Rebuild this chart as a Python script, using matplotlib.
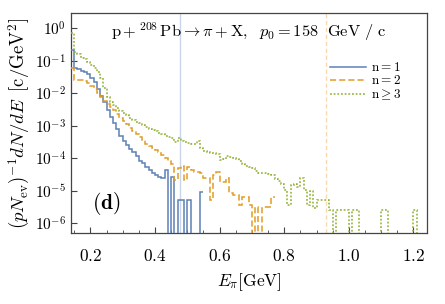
import numpy as np
import matplotlib
matplotlib.use("Agg")
import matplotlib.pyplot as plt
from matplotlib.ticker import FixedLocator, FuncFormatter, MultipleLocator, NullLocator

plt.rcParams['mathtext.fontset'] = 'cm'
plt.rcParams['font.family'] = 'serif'
plt.rcParams['font.serif'] = ['DejaVu Serif']

# bin layout (GeV)
e_start = 0.14
bin_width = 0.01

# n = 1
n1 = [2.1e-1, 6.1e-2, 5.6e-2, 5.0e-2, 4.5e-2, 3.9e-2, 3.0e-2, 2.2e-2, 1.36e-2, 8.3e-3,
      5.4e-3, 3.0e-3, 1.9e-3, 1.2e-3, 8.0e-4, 4.8e-4, 3.4e-4, 2.6e-4, 1.9e-4, 1.6e-4,
      1.2e-4, 8.0e-5, 7.2e-5, 5.4e-5, 4.4e-5, 3.5e-5, 3.1e-5, 2.7e-5, 2.5e-5, 4.4e-5,
      0, 2.7e-5, 0, 5.2e-6, 5.2e-6, 0, 5.2e-6, 0, 0, 0,
      9.4e-6]

# n = 2
n2 = [6.0e-2, 2.6e-2, 2.5e-2, 2.6e-2, 2.4e-2, 2.1e-2, 1.7e-2, 1.36e-2, 1.02e-2, 7.7e-3,
      5.8e-3, 4.7e-3, 3.8e-3, 3.1e-3, 2.3e-3, 1.7e-3, 1.4e-3, 1.14e-3, 8.5e-4, 6.9e-4,
      5.6e-4, 4.5e-4, 3.7e-4, 2.8e-4, 2.4e-4, 2.1e-4, 1.8e-4, 1.56e-4, 1.26e-4, 1.0e-4,
      8.3e-5, 6.6e-5, 2.1e-5, 4.9e-5, 5.8e-5, 2.1e-5, 5.4e-5, 4.4e-5, 3.8e-5, 3.8e-5,
      3.6e-5, 2.5e-5, 2.5e-5, 5.2e-6, 3.1e-5, 3.8e-5, 1.9e-5, 1.9e-5, 2.5e-5, 8.5e-6,
      7.4e-6, 7.4e-6, 3.6e-6, 6.4e-6, 6.4e-6, 3.6e-6, 0, 3.2e-6, 0, 3.2e-6,
      3.2e-6, 3.2e-6, 6.4e-6]

# n >= 3
n3 = [7.2e-1, 1.9e-1, 1.6e-1, 1.2e-1, 1.1e-1, 9.2e-2, 7.7e-2, 6.0e-2, 4.5e-2, 3.0e-2,
      1.46e-2, 7.7e-3, 5.4e-3, 4.4e-3, 3.5e-3, 2.9e-3, 2.4e-3, 2.1e-3, 1.7e-3, 1.56e-3,
      1.34e-3, 1.23e-3, 1.05e-3, 9.2e-4, 8.0e-4, 7.4e-4, 6.9e-4, 6.2e-4, 5.6e-4, 5.0e-4,
      4.5e-4, 4.2e-4, 3.2e-4, 4.2e-4, 3.4e-4, 3.2e-4, 2.9e-4, 2.7e-4, 2.8e-4, 3.4e-4,
      2.1e-4, 1.67e-4, 1.56e-4, 1.5e-4, 1.45e-4, 1.35e-4, 8.9e-5, 9.6e-5, 1.2e-4, 1.1e-4,
      1.0e-4, 9.6e-5, 8.3e-5, 6.6e-5, 5.8e-5, 5.2e-5, 5.0e-5, 4.1e-5, 3.5e-5, 3.5e-5,
      3.5e-5, 3.3e-5, 3.1e-5, 2.3e-5, 2.0e-5, 1.6e-5, 1.05e-5, 3.6e-6, 1.5e-5, 1.6e-5,
      1.3e-5, 2.4e-5, 1.05e-5, 3.6e-6, 9.8e-6, 2.9e-6, 5.2e-6, 5.2e-6, 5.2e-6, 5.2e-6,
      2.6e-6, 0, 2.6e-6, 2.6e-6, 2.6e-6, 2.6e-6, 0, 2.6e-6, 2.6e-6, 0,
      0, 0, 0, 0, 0, 0, 2.6e-6, 2.6e-6, 0, 0,
      0, 0, 0, 0, 0, 0, 2.6e-6, 0, 0, 0]

labels = [r'$\mathrm{n}=1$', r'$\mathrm{n}=2$', r'$\mathrm{n}\geq3$']
colors = ['#5E81B5', '#E19C24', '#8FB032']
styles = ['-', (0, (4, 2)), (0, (1.2, 1.2))]

vline_blue = 0.4765
vline_orange = 0.93

x_ticks = [0.2, 0.4, 0.6, 0.8, 1.0, 1.2]
y_ticks = [1e0, 1e-1, 1e-2, 1e-3, 1e-4, 1e-5, 1e-6]

fig = plt.figure(figsize=(4.45, 3.04), dpi=100)
ax = fig.add_axes([0.1596, 0.2336, 0.9596 - 0.1596, 0.957 - 0.2336])
ax.set_yscale('log')

ax.axvline(vline_blue, color='#C9D5EA', lw=1.0, zorder=1)
ax.axvline(vline_orange, color='#F8D9AE', lw=1.0, ls=(0, (3, 2)), zorder=1)

for vals, lab, c, s in zip([n1, n2, n3], labels, colors, styles):
    vals = np.asarray(vals, dtype=float)
    edges = e_start + bin_width * np.arange(len(vals) + 1)
    ax.stairs(vals, edges, color=c, lw=1.1, ls=s, label=lab, baseline=None, zorder=3)

ax.set_xlim(0.14, 1.242)
ax.set_ylim(10**-6.3, 10**0.47)

ax.xaxis.set_major_locator(FixedLocator(x_ticks))
ax.xaxis.set_minor_locator(MultipleLocator(0.05))
ax.xaxis.set_major_formatter(FuncFormatter(lambda v, p: r'$%.1f$' % v))
ax.yaxis.set_major_locator(FixedLocator(y_ticks))
ax.yaxis.set_minor_locator(NullLocator())
ax.yaxis.set_major_formatter(FuncFormatter(lambda v, p: r'$10^{%d}$' % int(round(np.log10(v)))))

ax.tick_params(axis='both', which='major', direction='in', length=4, width=0.8,
               labelsize=11, color='#444444')
ax.tick_params(axis='x', which='major', labelsize=12.5, pad=11)
ax.tick_params(axis='x', which='minor', direction='in', length=2.5, width=0.6, color='#444444')
for sp in ax.spines.values():
    sp.set_color('#444444')
    sp.set_linewidth(0.9)

ax.set_xlabel(r'$E_{\pi}[\mathrm{GeV}]$', fontsize=12.5, labelpad=4)
ax.set_ylabel(r'$(pN_{\mathrm{ev}})^{-1}dN/dE\ \,[\mathrm{c/GeV}^2]$', fontsize=13.5, labelpad=2)

ax.text(0.50, 0.915, r'$\mathrm{p}+{}^{208}\,\mathrm{Pb}\to\pi+\mathrm{X},\ \ p_0=158\ \ \mathrm{GeV\ /\ c}$',
        transform=ax.transAxes, ha='center', va='center', fontsize=11.8)
ax.text(0.098, 0.136, r'$\mathbf{(d)}$', transform=ax.transAxes, ha='center', va='center', fontsize=15.5)

leg = ax.legend(loc='upper left', bbox_to_anchor=(0.727, 0.78), frameon=False, fontsize=9.5,
                handlelength=2.75, labelspacing=0.0, handletextpad=0.4, borderaxespad=0.0,
                borderpad=0.0)

fig.savefig('out.png', dpi=100)
